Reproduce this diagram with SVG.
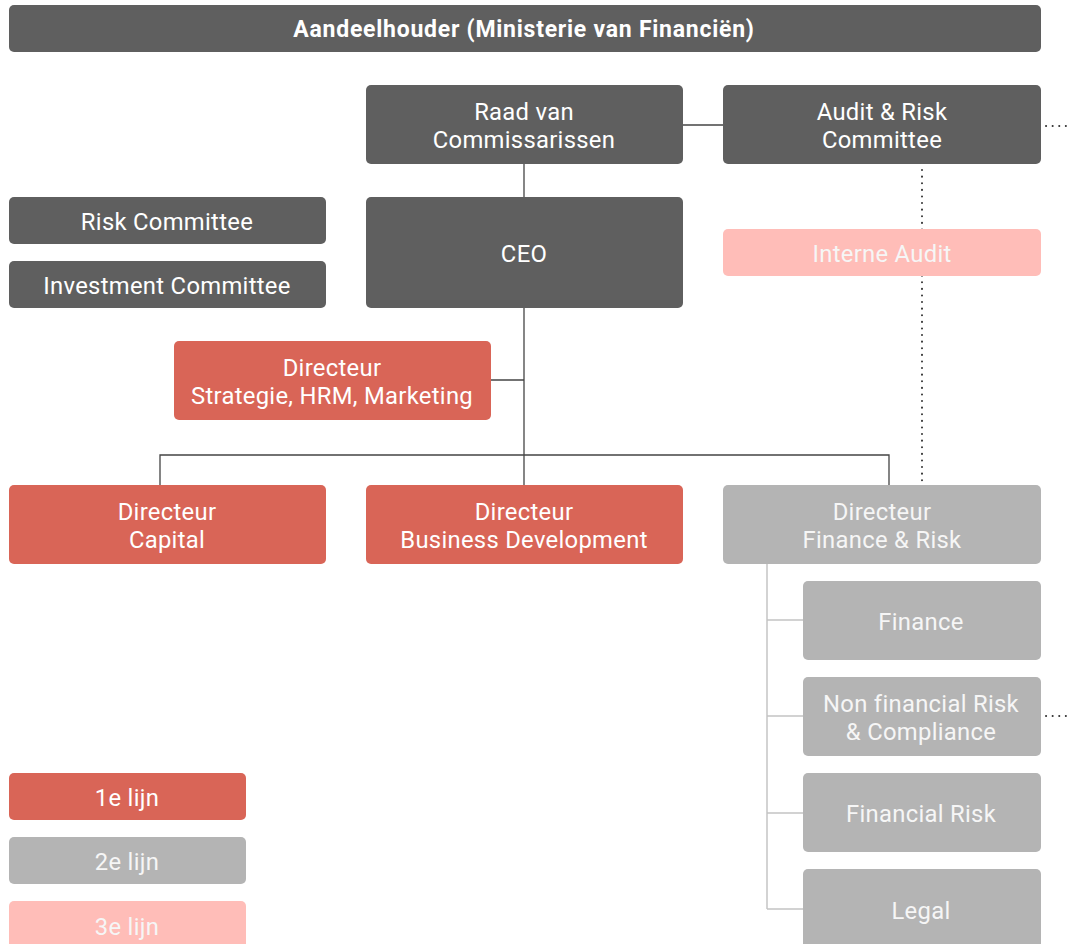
<svg xmlns="http://www.w3.org/2000/svg" width="1068" height="944" viewBox="0 0 1068 944">
<style>
text{font-family:Roboto,"Liberation Sans",sans-serif;font-size:23.8px;letter-spacing:0.3px;fill:#fff;text-anchor:middle}
.b{font-size:23px;font-weight:bold;letter-spacing:0.75px}
.dk{fill:#5f5f5f}.rd{fill:#d96557}.gy{fill:#b4b4b4}.pk{fill:#ffbdb8}
.lt{fill:#f6f6f6}
.ln{stroke:#444;stroke-width:1.3;fill:none}
.lg{stroke:#c4c4c4;stroke-width:1.5;fill:none}
.dt{stroke:#333;stroke-width:2;stroke-dasharray:0.1 6.5;stroke-linecap:round;fill:none}
</style>
<rect width="1068" height="944" fill="#fff"/>
<g id="connectors">
<path class="ln" d="M683 125H723"/>
<path class="ln" d="M524 164V197"/>
<path class="ln" d="M524 308V455"/>
<path class="ln" d="M491 380H524"/>
<path class="ln" d="M160 485V455H889V485"/>
<path class="ln" d="M524 455V485"/>
<path class="dt" d="M922 170V485"/>
<path class="dt" d="M1046 126H1066"/>
<path class="dt" d="M1046 716H1066"/>
<path class="lg" d="M767 564V909"/>
<path class="lg" d="M767 620H803M767 716H803M767 813H803M767 909H803"/>
</g>
<g id="aandeelhouder"><rect class="dk" x="9" y="5" width="1032" height="47" rx="5"/><text x="524" y="37" class="b">Aandeelhouder (Ministerie van Financiën)</text></g>
<g id="raad"><rect class="dk" x="366" y="85" width="317" height="79" rx="5"/><text x="524" y="120">Raad van</text><text x="524" y="148">Commissarissen</text></g>
<g id="audit-risk"><rect class="dk" x="723" y="85" width="318" height="79" rx="5"/><text x="882" y="120">Audit &amp; Risk</text><text x="882" y="148">Committee</text></g>
<g id="risk-committee"><rect class="dk" x="9" y="197" width="317" height="47" rx="5"/><text x="167" y="230">Risk Committee</text></g>
<g id="investment-committee"><rect class="dk" x="9" y="261" width="317" height="47" rx="5"/><text x="167" y="294">Investment Committee</text></g>
<g id="ceo"><rect class="dk" x="366" y="197" width="317" height="111" rx="5"/><text x="524" y="262">CEO</text></g>
<g id="interne-audit"><rect class="pk" x="723" y="229" width="318" height="47" rx="5"/><text x="882" y="262" class="lt">Interne Audit</text></g>
<g id="dir-strategie"><rect class="rd" x="174" y="341" width="317" height="79" rx="5"/><text x="332" y="376">Directeur</text><text x="332" y="404">Strategie, HRM, Marketing</text></g>
<g id="dir-capital"><rect class="rd" x="9" y="485" width="317" height="79" rx="5"/><text x="167" y="520">Directeur</text><text x="167" y="548">Capital</text></g>
<g id="dir-bd"><rect class="rd" x="366" y="485" width="317" height="79" rx="5"/><text x="524" y="520">Directeur</text><text x="524" y="548">Business Development</text></g>
<g id="dir-fr"><rect class="gy" x="723" y="485" width="318" height="79" rx="5"/><text x="882" y="520" class="lt">Directeur</text><text x="882" y="548" class="lt">Finance &amp; Risk</text></g>
<g id="finance"><rect class="gy" x="803" y="581" width="238" height="79" rx="5"/><text x="921" y="630" class="lt">Finance</text></g>
<g id="nfr"><rect class="gy" x="803" y="677" width="238" height="79" rx="5"/><text x="921" y="712" class="lt">Non financial Risk</text><text x="921" y="740" class="lt">&amp; Compliance</text></g>
<g id="financial-risk"><rect class="gy" x="803" y="773" width="238" height="79" rx="5"/><text x="921" y="822" class="lt">Financial Risk</text></g>
<g id="legal"><rect class="gy" x="803" y="869" width="238" height="85" rx="5"/><text x="921" y="919" class="lt">Legal</text></g>
<g id="legend-1"><rect class="rd" x="9" y="773" width="237" height="47" rx="5"/><text x="127" y="806">1e lijn</text></g>
<g id="legend-2"><rect class="gy" x="9" y="837" width="237" height="47" rx="5"/><text x="127" y="870" class="lt">2e lijn</text></g>
<g id="legend-3"><rect class="pk" x="9" y="901" width="237" height="53" rx="5"/><text x="127" y="935" class="lt">3e lijn</text></g>
</svg>
